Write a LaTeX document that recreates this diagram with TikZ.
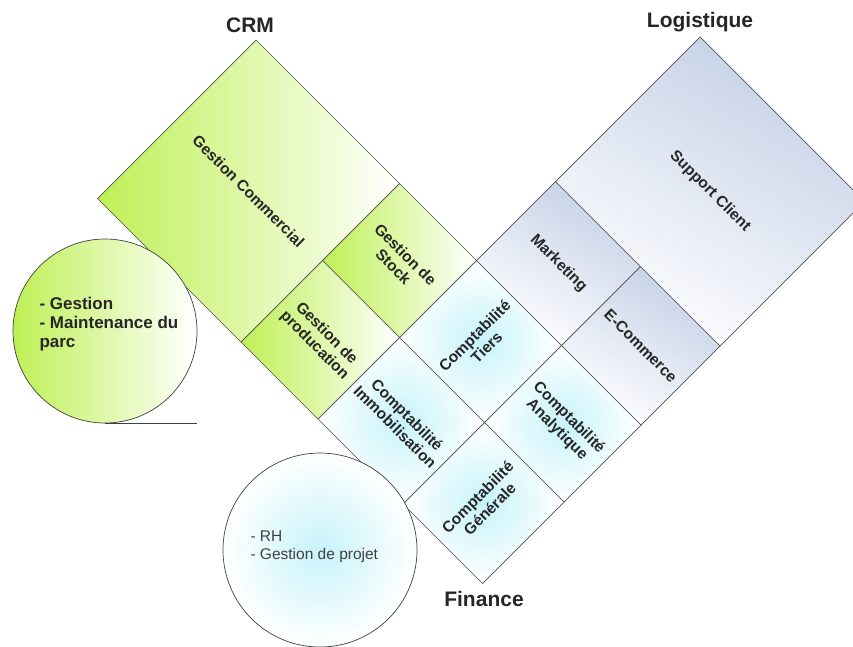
\documentclass[tikz,border=0pt]{standalone}
\usepackage{fontspec}
\setmainfont{Liberation Sans}
\usetikzlibrary{calc}

\definecolor{crmgreen}{RGB}{190,240,85}
\definecolor{logblue}{RGB}{196,208,230}
\definecolor{fincyan}{RGB}{198,243,250}
\definecolor{edgegray}{RGB}{80,80,80}

\begin{document}
\begin{tikzpicture}[x=1pt,y=-1pt,
    cell/.style={draw=edgegray, line width=0.7pt},
    crmcell/.style={cell, left color=crmgreen, right color=white},
    fincell/.style={cell, inner color=fincyan, outer color=white},
    logcell/.style={cell, top color=logblue, bottom color=white, shading angle=-30},
    lab/.style={font=\fontsize{15.5}{17}\selectfont\bfseries, align=center, text=black!85},
    title/.style={font=\fontsize{21}{25}\selectfont\bfseries, text=black!85}]

\useasboundingbox (0,0) rectangle (853,646);
\clip (0,0) rectangle (853,646);

% grid points: p = x+y, q = x-y
\foreach \p [count=\i from 0] in {296,583,737,907,1066}
  \foreach \q [count=\j from 0] in {-101,62,216,374,663}
    \coordinate (g\i\j) at ({(\p+\q)/2},{(\p-\q)/2});

% CRM
\draw[crmcell] (g00) -- (g02) -- (g12) -- (g10) -- cycle;
\draw[crmcell] (g11) -- (g12) -- (g22) -- (g21) -- cycle;
\draw[crmcell] (g10) -- (g11) -- (g21) -- (g20) -- cycle;

% Finance
\draw[fincell] (g21) -- (g22) -- (g32) -- (g31) -- cycle;
\draw[fincell] (g20) -- (g21) -- (g31) -- (g30) -- cycle;
\draw[fincell] (g31) -- (g32) -- (g42) -- (g41) -- cycle;
\draw[fincell] (g30) -- (g31) -- (g41) -- (g40) -- cycle;

% Logistique
\draw[logcell] (g22) -- (g23) -- (g33) -- (g32) -- cycle;
\draw[logcell] (g32) -- (g33) -- (g43) -- (g42) -- cycle;
\draw[logcell] (g23) -- (g24) -- (g44) -- (g43) -- cycle;

\node[lab, rotate=-45] (commercial) at ($(g00)!0.5!(g12)$) {Gestion Commercial};
\node[lab, rotate=-45] (stock) at ($(g11)!0.5!(g22)$) {Gestion de\\Stock};
\node[lab, rotate=-45] (production) at ($(g10)!0.5!(g21)$) {Gestion de\\producation};
\node[lab, rotate=45] (tiers) at ($(g21)!0.5!(g32)$) {Comptabilité\\Tiers};
\node[lab, rotate=-45] (immo) at ($(g20)!0.5!(g31)$) {Comptabilité\\Immobilisation};
\node[lab, rotate=-45] (analytique) at ($(g31)!0.5!(g42)$) {Comptabilité\\Analytique};
\node[lab, rotate=45] (generale) at ($(g30)!0.5!(g41)$) {Comptabilité\\Générale};
\node[lab, rotate=-45] (marketing) at ($(g22)!0.5!(g33)$) {Marketing};
\node[lab, rotate=-45] (ecommerce) at ($(g32)!0.5!(g43)$) {E-Commerce};
\node[lab, rotate=-45] (support) at ($(g23)!0.5!(g44)$) {Support Client};

% cercles
\node[circle, draw=black!75, line width=0.7pt, minimum size=184pt,
      left color=crmgreen, right color=white] (parc) at (105,331) {};
\draw[black!75, line width=0.9pt] (parc.south) -- ++(92,0);
\node[anchor=west, align=left, text=black!85,
      font=\fontsize{17}{19}\selectfont\bfseries] (parctxt) at (36,324)
      {- Gestion\\- Maintenance du\\parc};

\node[circle, draw=black!75, line width=0.7pt, minimum size=194pt,
      inner color=fincyan, outer color=white] (projet) at (320,550) {};
\node[anchor=west, align=left, text=black!75,
      font=\fontsize{15.5}{18.5}\selectfont] (projettxt) at (247,547)
      {- RH\\- Gestion de projet};

\node[title] (crm) at (250,25) {CRM};
\node[title] (logistique) at (700,22) {Logistique};
\node[title] (finance) at (484,599) {Finance};

\end{tikzpicture}
\end{document}
